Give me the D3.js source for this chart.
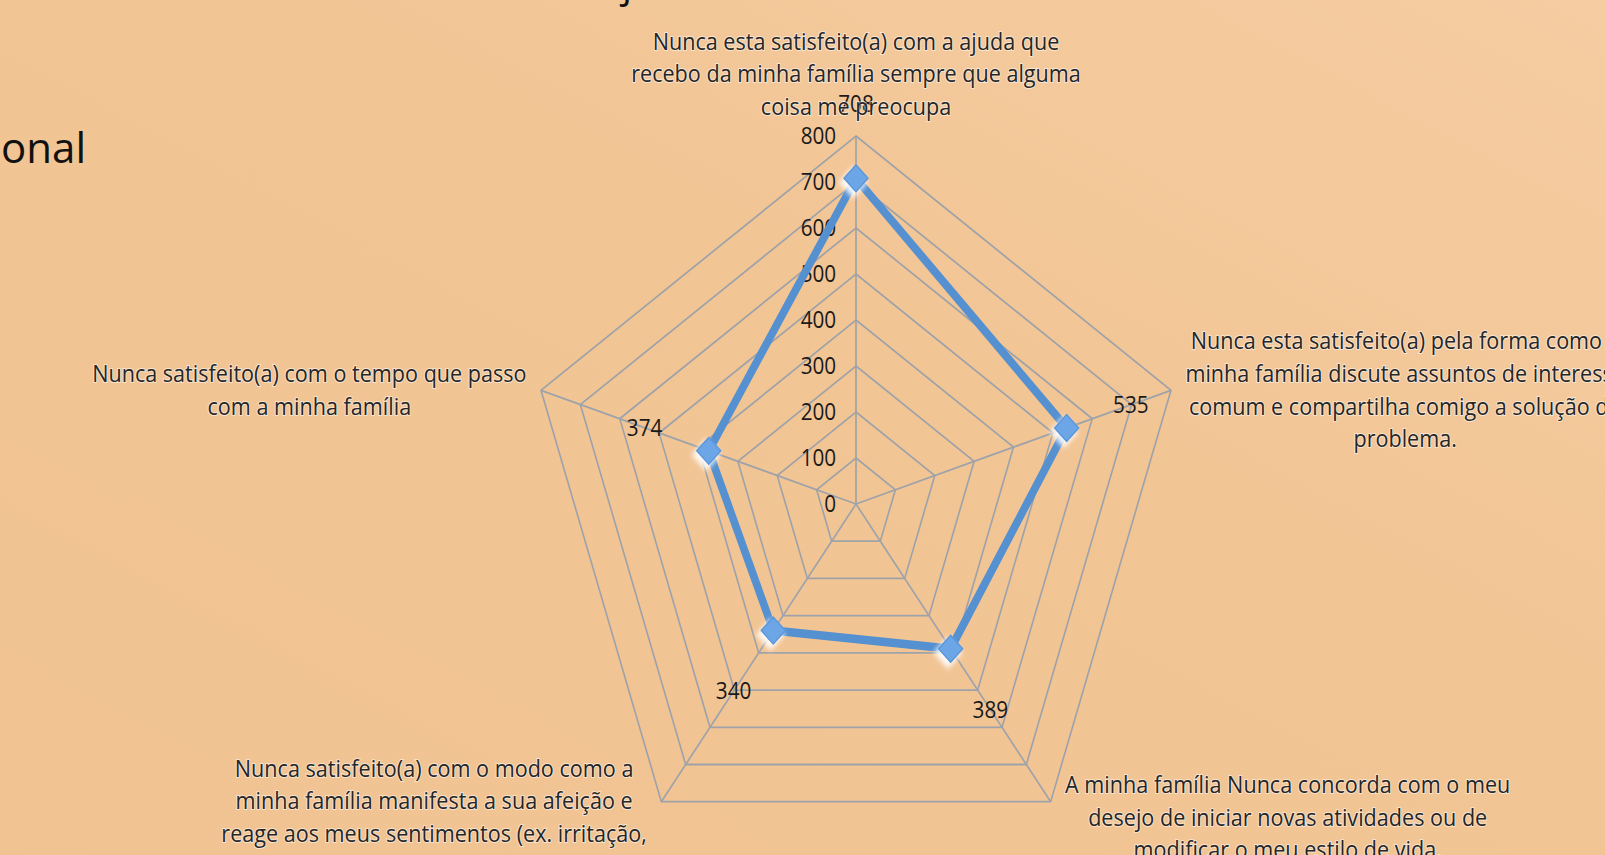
<!DOCTYPE html>
<meta charset="utf-8">
<head>
<script src="https://cdn.jsdelivr.net/npm/d3@7"></script>
<style>
html, body { margin: 0; padding: 0; overflow: hidden; }
text { font-family: "Open Sans", sans-serif; }
</style>
</head>
<body>
<script>
// categories (clockwise from the top), one array of lines each
var categories = [
  ["Nunca esta satisfeito(a) com a ajuda que", "recebo da minha família sempre que alguma", "coisa me preocupa"],
  ["Nunca esta  satisfeito(a) pela forma como a", "minha família discute assuntos de interesse", "comum e compartilha comigo a solução do", "problema."],
  ["A minha família Nunca concorda com o meu", "desejo de iniciar novas atividades ou de", "modificar o meu estilo de vida."],
  ["Nunca  satisfeito(a) com o modo como a", "minha família manifesta a sua afeição e", "reage aos meus sentimentos (ex. irritação,", "tristeza, amor)."],
  ["Nunca  satisfeito(a) com o tempo que passo", "com a minha família"]
];
var values = [708, 535, 389, 340, 374];
var ticks = [0, 100, 200, 300, 400, 500, 600, 700, 800];

var W = 1605, H = 855;
var cx = 856, cy = 504, sx = 0.9;

var svg = d3.select("body").append("svg")
    .attr("width", W)
    .attr("height", H);

var defs = svg.append("defs");
var bg = defs.append("linearGradient").attr("id", "bg")
    .attr("x1", "0").attr("y1", "1").attr("x2", "1").attr("y2", "0");
bg.append("stop").attr("offset", "0").attr("stop-color", "#f1c393");
bg.append("stop").attr("offset", "0.6").attr("stop-color", "#f2c595");
bg.append("stop").attr("offset", "1").attr("stop-color", "#f5cda2");
var glow = defs.append("filter").attr("id", "glow")
    .attr("x", "-1").attr("y", "-1").attr("width", "3").attr("height", "3");
glow.append("feGaussianBlur").attr("stdDeviation", 3);

svg.append("rect").attr("width", W).attr("height", H).attr("fill", "url(#bg)");

// bits of the slide title that stick into the picture
svg.append("text")
    .attr("x", 86).attr("y", 163)
    .attr("text-anchor", "end")
    .style("font-size", "42px")
    .attr("fill", "#111")
    .text("Funcional");
svg.append("text")
    .attr("x", 622).attr("y", -3)
    .style("font-size", "40px")
    .attr("fill", "#111")
    .text("j");

var g = svg.append("g")
    .attr("transform", "translate(" + cx + "," + cy + ") scale(" + sx + ",1)");

var r = d3.scaleLinear().domain([0, 800]).range([0, 368]);
var angle = d3.scaleLinear().domain([0, categories.length]).range([0, 2 * Math.PI]);

function pt(i, v) {
  var a = angle(i);
  return [r(v) * Math.sin(a), -r(v) * Math.cos(a)];
}

// grid rings
g.selectAll("path.ring")
  .data(ticks.slice(1))
  .enter().append("path")
    .attr("class", "ring")
    .attr("d", function(t) {
      return d3.line()(categories.map(function(c, i) { return pt(i, t); })) + "Z";
    })
    .attr("fill", "none")
    .attr("stroke", "#9ea2a9")
    .attr("stroke-width", 1.8);

// spokes
g.selectAll("line.spoke")
  .data(categories)
  .enter().append("line")
    .attr("class", "spoke")
    .attr("x1", 0).attr("y1", 0)
    .attr("x2", function(d, i) { return pt(i, 800)[0]; })
    .attr("y2", function(d, i) { return pt(i, 800)[1]; })
    .attr("stroke", "#9ea2a9")
    .attr("stroke-width", 1.8);

// tick labels
g.selectAll("text.tick")
  .data(ticks)
  .enter().append("text")
    .attr("class", "tick")
    .attr("x", -22)
    .attr("y", function(t) { return -r(t); })
    .attr("dy", "0.36em")
    .attr("text-anchor", "end")
    .style("font-size", "23px")
    .attr("fill", "#1a1a1a")
    .text(function(t) { return t; });

// series
var pts = values.map(function(v, i) { return pt(i, v); });
g.append("path")
    .attr("d", d3.line()(pts) + "Z")
    .attr("fill", "none")
    .attr("stroke", "#5590d1")
    .attr("stroke-width", 8.5)
    .attr("stroke-linejoin", "round");

g.selectAll("path.halo")
  .data(pts)
  .enter().append("path")
    .attr("class", "halo")
    .attr("transform", function(p) { return "translate(" + (p[0] - 3) + "," + (p[1] + 4) + ") rotate(45)"; })
    .attr("d", d3.symbol().type(d3.symbolSquare).size(520))
    .attr("fill", "#ffffff")
    .attr("opacity", 0.9)
    .attr("filter", "url(#glow)");
g.selectAll("path.mark")
  .data(pts)
  .enter().append("path")
    .attr("class", "mark")
    .attr("transform", function(p) { return "translate(" + p[0] + "," + p[1] + ") rotate(45)"; })
    .attr("d", d3.symbol().type(d3.symbolSquare).size(360))
    .attr("fill", "#6ca6e6")
    .attr("stroke", "#5b97dc")
    .attr("stroke-width", 1.5)
    .attr("stroke-linejoin", "round");

// value labels
g.selectAll("text.val")
  .data(values)
  .enter().append("text")
    .attr("class", "val")
    .attr("x", function(v, i) { return pt(i, v)[0] + 75 * Math.sin(angle(i)); })
    .attr("y", function(v, i) { return pt(i, v)[1] - 75 * Math.cos(angle(i)); })
    .attr("dy", "0.36em")
    .attr("text-anchor", "middle")
    .style("font-size", "23px")
    .attr("fill", "#1a1a1a")
    .text(function(v) { return v; });

// category labels
var lh = 32.7, gap = 16;
categories.forEach(function(lines, i) {
  var a = angle(i), s = Math.sin(a), c = Math.cos(a);
  var v = pt(i, 800);
  var t = g.append("text")
      .style("font-size", "24px")
      .attr("fill", "#262626")
      .attr("stroke", "rgba(255,255,255,0.55)")
      .attr("stroke-width", 2)
      .attr("paint-order", "stroke")
      .attr("text-anchor", "middle");
  var spans = t.selectAll("tspan").data(lines).enter().append("tspan")
      .attr("x", 0)
      .attr("y", function(d, k) { return k * lh; })
      .text(function(d) { return d; });
  var w = d3.max(spans.nodes(), function(n) { return n.getComputedTextLength(); });
  var bx, by;
  if (Math.abs(s) < 0.1) {
    bx = v[0];
    by = v[1] - gap - 5 - (lines.length - 1) * lh;
  } else {
    bx = s > 0 ? v[0] + gap + w / 2 : v[0] - gap - w / 2;
    by = v[1] + (c < -0.5 ? 16 : 0) - (lines.length - 1) * lh / 2 + 8;
  }
  t.attr("transform", "translate(" + bx + "," + by + ")");
});
</script>
</body>
